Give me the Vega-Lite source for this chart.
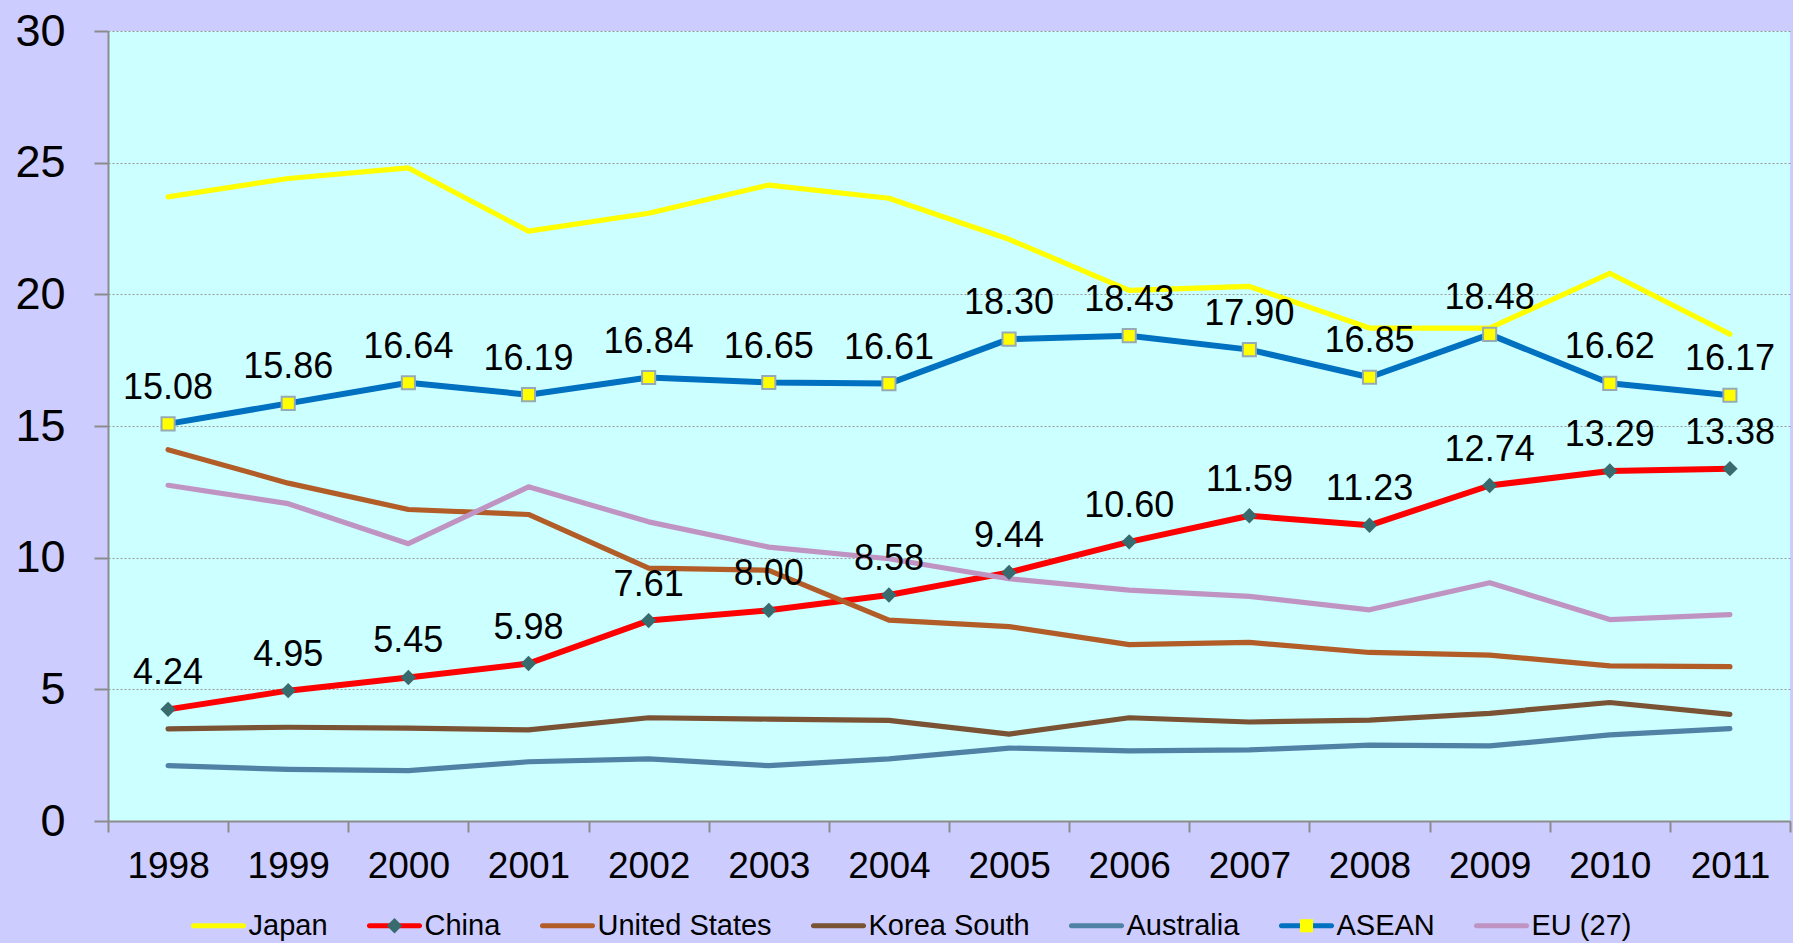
{
  "$schema": "https://vega.github.io/schema/vega-lite/v6.json",
  "autosize": {"type": "none"},
  "padding": {"left": 108, "top": 31, "right": 3, "bottom": 122},
  "width": 1682,
  "height": 790,
  "background": "#CCCCFF",
  "config": {
    "view": {"fill": "#CCFFFF", "stroke": null},
    "font": "Liberation Sans",
    "axis": {"labelFont": "Liberation Sans", "labelColor": "#000000", "domainColor": "#8C8C8C", "domainWidth": 2, "tickColor": "#8C8C8C", "tickWidth": 2, "title": null},
    "legend": {"labelFont": "Liberation Sans", "labelColor": "#000000"}
  },
  "resolve": {"scale": {"fill": "independent", "shape": "independent"}},
  "data": {"values": [
    {"year":"1998","series":"Japan","value":23.7},{"year":"1999","series":"Japan","value":24.4},{"year":"2000","series":"Japan","value":24.8},{"year":"2001","series":"Japan","value":22.4},{"year":"2002","series":"Japan","value":23.08},{"year":"2003","series":"Japan","value":24.15},{"year":"2004","series":"Japan","value":23.65},{"year":"2005","series":"Japan","value":22.09},{"year":"2006","series":"Japan","value":20.15},{"year":"2007","series":"Japan","value":20.3},{"year":"2008","series":"Japan","value":18.72},{"year":"2009","series":"Japan","value":18.72},{"year":"2010","series":"Japan","value":20.8},{"year":"2011","series":"Japan","value":18.49},
    {"year":"1998","series":"China","value":4.24},{"year":"1999","series":"China","value":4.95},{"year":"2000","series":"China","value":5.45},{"year":"2001","series":"China","value":5.98},{"year":"2002","series":"China","value":7.61},{"year":"2003","series":"China","value":8.00},{"year":"2004","series":"China","value":8.58},{"year":"2005","series":"China","value":9.44},{"year":"2006","series":"China","value":10.60},{"year":"2007","series":"China","value":11.59},{"year":"2008","series":"China","value":11.23},{"year":"2009","series":"China","value":12.74},{"year":"2010","series":"China","value":13.29},{"year":"2011","series":"China","value":13.38},
    {"year":"1998","series":"United States","value":14.1},{"year":"1999","series":"United States","value":12.83},{"year":"2000","series":"United States","value":11.83},{"year":"2001","series":"United States","value":11.64},{"year":"2002","series":"United States","value":9.6},{"year":"2003","series":"United States","value":9.52},{"year":"2004","series":"United States","value":7.63},{"year":"2005","series":"United States","value":7.38},{"year":"2006","series":"United States","value":6.7},{"year":"2007","series":"United States","value":6.78},{"year":"2008","series":"United States","value":6.4},{"year":"2009","series":"United States","value":6.3},{"year":"2010","series":"United States","value":5.89},{"year":"2011","series":"United States","value":5.86},
    {"year":"1998","series":"Korea South","value":3.5},{"year":"1999","series":"Korea South","value":3.56},{"year":"2000","series":"Korea South","value":3.53},{"year":"2001","series":"Korea South","value":3.46},{"year":"2002","series":"Korea South","value":3.92},{"year":"2003","series":"Korea South","value":3.87},{"year":"2004","series":"Korea South","value":3.82},{"year":"2005","series":"Korea South","value":3.3},{"year":"2006","series":"Korea South","value":3.92},{"year":"2007","series":"Korea South","value":3.76},{"year":"2008","series":"Korea South","value":3.83},{"year":"2009","series":"Korea South","value":4.09},{"year":"2010","series":"Korea South","value":4.5},{"year":"2011","series":"Korea South","value":4.05},
    {"year":"1998","series":"Australia","value":2.1},{"year":"1999","series":"Australia","value":1.96},{"year":"2000","series":"Australia","value":1.91},{"year":"2001","series":"Australia","value":2.25},{"year":"2002","series":"Australia","value":2.36},{"year":"2003","series":"Australia","value":2.1},{"year":"2004","series":"Australia","value":2.36},{"year":"2005","series":"Australia","value":2.77},{"year":"2006","series":"Australia","value":2.66},{"year":"2007","series":"Australia","value":2.7},{"year":"2008","series":"Australia","value":2.88},{"year":"2009","series":"Australia","value":2.85},{"year":"2010","series":"Australia","value":3.27},{"year":"2011","series":"Australia","value":3.51},
    {"year":"1998","series":"ASEAN","value":15.08},{"year":"1999","series":"ASEAN","value":15.86},{"year":"2000","series":"ASEAN","value":16.64},{"year":"2001","series":"ASEAN","value":16.19},{"year":"2002","series":"ASEAN","value":16.84},{"year":"2003","series":"ASEAN","value":16.65},{"year":"2004","series":"ASEAN","value":16.61},{"year":"2005","series":"ASEAN","value":18.30},{"year":"2006","series":"ASEAN","value":18.43},{"year":"2007","series":"ASEAN","value":17.90},{"year":"2008","series":"ASEAN","value":16.85},{"year":"2009","series":"ASEAN","value":18.48},{"year":"2010","series":"ASEAN","value":16.62},{"year":"2011","series":"ASEAN","value":16.17},
    {"year":"1998","series":"EU (27)","value":12.75},{"year":"1999","series":"EU (27)","value":12.05},{"year":"2000","series":"EU (27)","value":10.53},{"year":"2001","series":"EU (27)","value":12.69},{"year":"2002","series":"EU (27)","value":11.36},{"year":"2003","series":"EU (27)","value":10.4},{"year":"2004","series":"EU (27)","value":9.96},{"year":"2005","series":"EU (27)","value":9.2},{"year":"2006","series":"EU (27)","value":8.77},{"year":"2007","series":"EU (27)","value":8.53},{"year":"2008","series":"EU (27)","value":8.02},{"year":"2009","series":"EU (27)","value":9.05},{"year":"2010","series":"EU (27)","value":7.65},{"year":"2011","series":"EU (27)","value":7.84}
  ]},
  "encoding": {
    "x": {"field": "year", "type": "ordinal", "bandPosition": 0.5,
      "scale": {"type": "band", "paddingInner": 0, "paddingOuter": 0},
      "axis": {"tickBand": "extent", "labelAngle": 0, "labelFontSize": 37, "tickSize": 11, "labelPadding": 16, "grid": false}},
    "y": {"field": "value", "type": "quantitative",
      "scale": {"domain": [0, 30], "nice": false, "zero": true},
      "axis": {"values": [0, 5, 10, 15, 20, 25, 30], "labelFontSize": 45, "tickSize": 14, "labelPadding": 29,
        "grid": true, "gridColor": "#999999", "gridDash": [2, 2], "gridWidth": 1}}
  },
  "layer": [
    {
      "mark": {"type": "line", "strokeCap": "round", "strokeJoin": "round"},
      "encoding": {
        "stroke": {"field": "series", "type": "nominal",
          "sort": ["Japan", "China", "United States", "Korea South", "Australia", "ASEAN", "EU (27)"],
          "scale": {"range": ["#FFFF00", "#FF0000", "#B25C28", "#7A5234", "#5082A5", "#0070C0", "#C094C2"]},
          "legend": null},
        "strokeWidth": {"condition": {"test": "datum.series === 'China' || datum.series === 'ASEAN'", "value": 6}, "value": 5.2}
      }
    },
    {
      "transform": [{"filter": {"field": "value", "lt": -1}}],
      "mark": {"type": "point", "filled": true, "size": 3249, "strokeWidth": 0},
      "encoding": {
        "fill": {"field": "series", "type": "nominal",
          "scale": {"domain": ["Japan", "China", "United States", "Korea South", "Australia", "ASEAN", "EU (27)"],
            "range": ["#FFFF00", "#FF0000", "#B25C28", "#7A5234", "#5082A5", "#0070C0", "#C094C2"]},
          "legend": {"orient": "none", "legendX": 82, "legendY": 866, "direction": "horizontal", "title": null,
            "symbolSize": 3249, "symbolStrokeWidth": 0, "symbolOffset": 0, "symbolOpacity": 1, "labelOffset": 1.5,
            "labelFontSize": 29, "labelLimit": 400, "columnPadding": 35, "padding": 0}},
        "shape": {"field": "series", "type": "nominal",
          "scale": {"domain": ["Japan", "China", "United States", "Korea South", "Australia", "ASEAN", "EU (27)"],
            "range": [
              "M-0.97,0M3.93,0M-0.88,-0.088H0.88A0.088,0.088 0 0 1 0.88,0.088H-0.88A0.088,0.088 0 0 1 -0.88,-0.088Z",
              "M-0.97,0M3.816,0M-0.88,-0.088H0.88A0.088,0.088 0 0 1 0.88,0.088H-0.88A0.088,0.088 0 0 1 -0.88,-0.088Z",
              "M-0.97,0M7.266,0M-0.88,-0.088H0.88A0.088,0.088 0 0 1 0.88,0.088H-0.88A0.088,0.088 0 0 1 -0.88,-0.088Z",
              "M-0.97,0M6.814,0M-0.88,-0.088H0.88A0.088,0.088 0 0 1 0.88,0.088H-0.88A0.088,0.088 0 0 1 -0.88,-0.088Z",
              "M-0.97,0M5.116,0M-0.88,-0.088H0.88A0.088,0.088 0 0 1 0.88,0.088H-0.88A0.088,0.088 0 0 1 -0.88,-0.088Z",
              "M-0.97,0M4.607,0M-0.88,-0.088H0.88A0.088,0.088 0 0 1 0.88,0.088H-0.88A0.088,0.088 0 0 1 -0.88,-0.088Z",
              "M-0.97,0M4.663,0M-0.88,-0.088H0.88A0.088,0.088 0 0 1 0.88,0.088H-0.88A0.088,0.088 0 0 1 -0.88,-0.088Z"
            ]},
          "legend": {"orient": "none", "legendX": 82, "legendY": 866, "direction": "horizontal", "title": null,
            "symbolSize": 3249, "symbolStrokeWidth": 0, "symbolOffset": 0, "symbolOpacity": 1, "labelOffset": 1.5,
            "labelFontSize": 29, "labelLimit": 400, "columnPadding": 35, "padding": 0}}
      }
    },
    {
      "encoding": {
        "fill": {"field": "series", "type": "nominal",
          "scale": {"domain": ["Japan", "China", "United States", "Korea South", "Australia", "ASEAN", "EU (27)"],
            "range": ["transparent", "#376B6E", "transparent", "transparent", "transparent", "#FFFF00", "transparent"]},
          "legend": {"orient": "none", "legendX": 82, "legendY": 866, "direction": "horizontal", "title": null,
            "symbolSize": 3249, "symbolStrokeWidth": 0, "symbolOffset": 0, "symbolOpacity": 1, "labelOffset": 1.5,
            "labelExpr": "''", "labelFontSize": 29, "labelLimit": 400, "columnPadding": 35, "padding": 0}},
        "shape": {"field": "series", "type": "nominal",
          "scale": {"domain": ["Japan", "China", "United States", "Korea South", "Australia", "ASEAN", "EU (27)"],
            "range": [
              "M-0.97,0M3.93,0",
              "M-0.97,0M3.816,0M0,-0.27L0.27,0L0,0.27L-0.27,0Z",
              "M-0.97,0M7.266,0",
              "M-0.97,0M6.814,0",
              "M-0.97,0M5.116,0",
              "M-0.97,0M4.607,0M-0.23,-0.23H0.23V0.23H-0.23Z",
              "M-0.97,0M4.663,0"
            ]},
          "legend": {"orient": "none", "legendX": 82, "legendY": 866, "direction": "horizontal", "title": null,
            "symbolSize": 3249, "symbolStrokeWidth": 0, "symbolOffset": 0, "symbolOpacity": 1, "labelOffset": 1.5,
            "labelExpr": "''", "labelFontSize": 29, "labelLimit": 400, "columnPadding": 35, "padding": 0}}
      },
      "layer": [
        {
          "transform": [{"filter": {"field": "series", "equal": "China"}}],
          "mark": {"type": "point", "filled": true, "size": 3249, "opacity": 1, "strokeWidth": 0}
        },
        {
          "transform": [{"filter": {"field": "series", "equal": "ASEAN"}}],
          "mark": {"type": "point", "filled": true, "size": 3249, "opacity": 1, "stroke": "#96AAB4", "strokeWidth": 2}
        }
      ]
    },
    {
      "transform": [{"filter": {"field": "series", "oneOf": ["China", "ASEAN"]}}],
      "mark": {"type": "text", "dy": -25, "baseline": "alphabetic", "align": "center", "fontSize": 36, "font": "Liberation Sans", "color": "#000000"},
      "encoding": {
        "text": {"field": "value", "type": "quantitative", "format": ".2f"}
      }
    }
  ]
}
